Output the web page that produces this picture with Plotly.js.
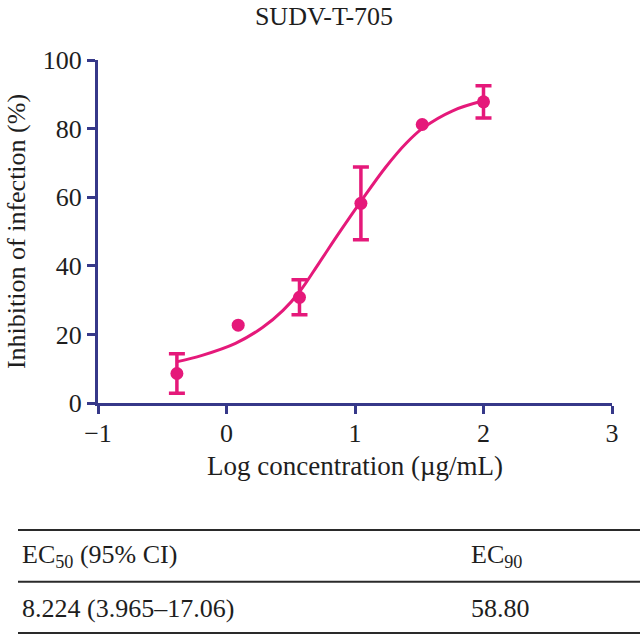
<!DOCTYPE html>
<html>
<head>
<meta charset="utf-8">
<script src="https://cdn.plot.ly/plotly-3.0.1.min.js"></script>
<style>
  html, body { margin: 0; padding: 0; background: #ffffff; }
  #chart { width: 640px; height: 635px; }
</style>
</head>
<body>
<div id="chart"></div>
<script>
// ---- data ----
const chartTitle = 'SUDV-T-705';
const logConc = [-0.386, 0.091, 0.568, 1.046, 1.523, 2.0];
const inhibition = [8.6, 22.7, 30.8, 58.2, 81.2, 87.8];
const inhibitionErr = [5.75, null, 5.1, 10.6, null, 4.7];

// fitted curve
const curveX = [-0.39, -0.19, 0.07, 0.28, 0.44, 0.57, 0.72, 0.88, 1.05, 1.24, 1.40, 1.53, 1.76, 2.0];
const curveY = [12.0, 13.9, 17.4, 22.0, 27.0, 32.5, 40.8, 49.8, 59.0, 68.8, 75.8, 80.2, 85.2, 88.1];

const xTickVals = [-1, 0, 1, 2, 3];
const yTickVals = [0, 20, 40, 60, 80, 100];
const xTitle = 'Log concentration (µg/mL)';
const yTitle = 'Inhibition of infection (%)';

const tableHeaders = ['EC<sub>50</sub> (95% CI)', 'EC<sub>90</sub>'];
const tableValues = ['8.224 (3.965–17.06)', '58.80'];

// ---- styling ----
const W = 640, H = 635;
const M = {l: 98, r: 28, t: 60, b: 232};
const pink = '#E5197A';
const navy = '#363889';
const ink = '#1e1e1e';
const FONT = '"Liberation Serif", "Times New Roman", serif';

const plotW = W - M.l - M.r, plotH = H - M.t - M.b;
const px2x = p => (p - M.l) / plotW;
const px2y = p => (H - M.b - p) / plotH;

const withErr = logConc.map((_, i) => inhibitionErr[i] != null);

const traces = [
  {
    x: curveX, y: curveY, type: 'scatter', mode: 'lines',
    line: {color: pink, width: 3, shape: 'spline', smoothing: 1},
    hoverinfo: 'skip', cliponaxis: false
  },
  {
    x: logConc.filter((_, i) => withErr[i]),
    y: inhibition.filter((_, i) => withErr[i]),
    type: 'scatter', mode: 'markers',
    marker: {color: pink, size: 13},
    error_y: {type: 'data', array: inhibitionErr.filter((_, i) => withErr[i]),
              visible: true, color: pink, thickness: 3.5, width: 8},
    cliponaxis: false
  },
  {
    x: logConc.filter((_, i) => !withErr[i]),
    y: inhibition.filter((_, i) => !withErr[i]),
    type: 'scatter', mode: 'markers',
    marker: {color: pink, size: 13},
    cliponaxis: false
  }
];

// table lines and text
const lineYs = [530, 581.7, 633];
const shapes = lineYs.map(py => ({
  type: 'line', xref: 'paper', yref: 'paper',
  x0: px2x(18), x1: px2x(640), y0: px2y(py), y1: px2y(py),
  line: {color: '#2a2a2a', width: 2}
}));
const colX = [20, 469];
const annotations = [];
tableHeaders.forEach((t, i) => annotations.push({
  text: t, xref: 'paper', yref: 'paper', x: px2x(colX[i]), y: px2y(556),
  xanchor: 'left', yanchor: 'middle', showarrow: false,
  font: {family: FONT, size: 26, color: ink}
}));
tableValues.forEach((t, i) => annotations.push({
  text: t, xref: 'paper', yref: 'paper', x: px2x(colX[i]), y: px2y(608),
  xanchor: 'left', yanchor: 'middle', showarrow: false,
  font: {family: FONT, size: 26, color: ink}
}));

const layout = {
  width: W, height: H,
  margin: M,
  paper_bgcolor: '#ffffff', plot_bgcolor: '#ffffff',
  showlegend: false,
  font: {family: FONT, size: 26, color: ink},
  title: {
    text: chartTitle, font: {family: FONT, size: 26, color: ink},
    xref: 'paper', x: px2x(324), xanchor: 'center',
    yref: 'container', y: 1 - 16 / H, yanchor: 'middle'
  },
  xaxis: {
    range: [-1, 3], tickvals: xTickVals, ticktext: xTickVals.map(v => v < 0 ? '\u2212' + Math.abs(v) : String(v)),
    showgrid: false, zeroline: false,
    showline: true, linecolor: navy, linewidth: 3,
    ticks: 'outside', ticklen: 8, tickwidth: 3, tickcolor: navy,
    ticklabelstandoff: -3,
    tickfont: {family: FONT, size: 26, color: ink},
    title: {text: xTitle, font: {family: FONT, size: 27, color: ink}, standoff: 9},
    automargin: false
  },
  yaxis: {
    range: [0, 100], tickvals: yTickVals,
    showgrid: false, zeroline: false,
    showline: true, linecolor: navy, linewidth: 3,
    ticks: 'outside', ticklen: 8, tickwidth: 3, tickcolor: navy,
    tickfont: {family: FONT, size: 26, color: ink},
    title: {text: yTitle, font: {family: FONT, size: 26, color: ink}, standoff: 10},
    automargin: false
  },
  shapes: shapes,
  annotations: annotations
};

Plotly.newPlot('chart', traces, layout, {displayModeBar: false, staticPlot: true});
</script>
</body>
</html>
